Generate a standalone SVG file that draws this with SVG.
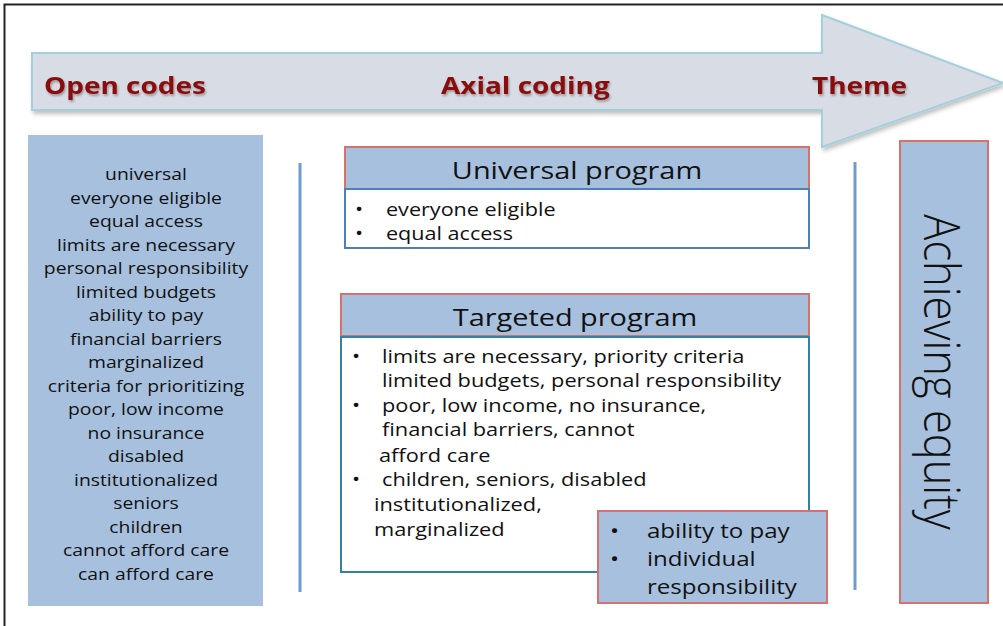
<svg xmlns="http://www.w3.org/2000/svg" width="1003" height="626" viewBox="0 0 1003 626">
  <defs>
    <filter id="sh" x="-5%" y="-10%" width="115%" height="130%">
      <feDropShadow dx="2" dy="3" stdDeviation="2" flood-color="#000" flood-opacity="0.25"/>
    </filter>
    <filter id="tsh" x="-5%" y="-20%" width="115%" height="150%">
      <feDropShadow dx="1" dy="2" stdDeviation="1" flood-color="#000" flood-opacity="0.3"/>
    </filter>
  </defs>
  <style>
    text { font-family: "Open Sans", "Liberation Sans", sans-serif; fill: #111; }
    .stage { font-weight: bold; font-size: 23.7px; fill: #8a0a0a; }
    .code { font-size: 16.4px; text-anchor: middle; }
    .hdr { font-size: 24.5px; text-anchor: middle; }
    .body { font-size: 18.3px; }
    .big { font-size: 20.4px; }
    .theme { font-size: 43.5px; font-weight: 300; text-anchor: middle; }
    .blue { fill: #a7c0de; }
    .red { stroke: #d4736e; stroke-width: 2; }
    .vline { stroke: #6c9cd0; stroke-width: 3; }
  </style>
  <rect x="0" y="0" width="1003" height="626" fill="#fff"/>
  <rect x="4.5" y="4.5" width="1010" height="700" fill="none" stroke="#222" stroke-width="2"/>

  <g id="process-arrow">
    <path d="M32,53 L822,53 L822,15 L1003,83 L822,147 L822,110 L32,110 Z" fill="#d8dce4" stroke="#a3d0dc" stroke-width="2" filter="url(#sh)"/>
    <text class="stage" transform="translate(44 94) scale(1.18 1)" filter="url(#tsh)">Open codes</text>
    <text class="stage" transform="translate(441 94) scale(1.18 1)" filter="url(#tsh)">Axial coding</text>
    <text class="stage" transform="translate(812 94) scale(1.18 1)" filter="url(#tsh)">Theme</text>
  </g>

  <g id="open-codes">
    <rect class="blue" x="28" y="135" width="235" height="471"/>
    <text class="code" transform="translate(146 180) scale(1.18 1)">universal</text>
    <text class="code" transform="translate(146 203.5) scale(1.18 1)">everyone eligible</text>
    <text class="code" transform="translate(146 227) scale(1.18 1)">equal access</text>
    <text class="code" transform="translate(146 250.5) scale(1.18 1)">limits are necessary</text>
    <text class="code" transform="translate(146 274) scale(1.18 1)">personal responsibility</text>
    <text class="code" transform="translate(146 297.5) scale(1.18 1)">limited budgets</text>
    <text class="code" transform="translate(146 321) scale(1.18 1)">ability to pay</text>
    <text class="code" transform="translate(146 344.5) scale(1.18 1)">financial barriers</text>
    <text class="code" transform="translate(146 368) scale(1.18 1)">marginalized</text>
    <text class="code" transform="translate(146 391.5) scale(1.18 1)">criteria for prioritizing</text>
    <text class="code" transform="translate(146 415) scale(1.18 1)">poor, low income</text>
    <text class="code" transform="translate(146 438.5) scale(1.18 1)">no insurance</text>
    <text class="code" transform="translate(146 462) scale(1.18 1)">disabled</text>
    <text class="code" transform="translate(146 485.5) scale(1.18 1)">institutionalized</text>
    <text class="code" transform="translate(146 509) scale(1.18 1)">seniors</text>
    <text class="code" transform="translate(146 532.5) scale(1.18 1)">children</text>
    <text class="code" transform="translate(146 556) scale(1.18 1)">cannot afford care</text>
    <text class="code" transform="translate(146 579.5) scale(1.18 1)">can afford care</text>
  </g>

  <g id="connectors">
    <line class="vline" x1="300" y1="163" x2="300" y2="592"/>
    <line class="vline" x1="855" y1="162" x2="855" y2="590"/>
  </g>

  <g id="universal-program">
    <rect class="blue red" x="345" y="147" width="464" height="42"/>
    <text class="hdr" transform="translate(577 179) scale(1.18 1)">Universal program</text>
    <rect x="345" y="189" width="464" height="59" fill="#fff" stroke="#4f7fb8" stroke-width="2"/>
    <text class="body" transform="translate(355 216) scale(1.18 1)">•</text>
    <text class="body" transform="translate(386 216) scale(1.18 1)">everyone eligible</text>
    <text class="body" transform="translate(355 240) scale(1.18 1)">•</text>
    <text class="body" transform="translate(386 240) scale(1.18 1)">equal access</text>
  </g>

  <g id="targeted-program">
    <rect class="blue red" x="341" y="294" width="468" height="42"/>
    <text class="hdr" transform="translate(575 326) scale(1.18 1)">Targeted program</text>
    <rect x="341" y="337" width="468" height="235" fill="#fff" stroke="#3b7fa0" stroke-width="2"/>
    <text class="body" transform="translate(352 363) scale(1.18 1)">•</text>
    <text class="body" transform="translate(382 363) scale(1.19 1)">limits are necessary, priority criteria</text>
    <text class="body" transform="translate(382 387) scale(1.19 1)">limited budgets, personal responsibility</text>
    <text class="body" transform="translate(352 412) scale(1.18 1)">•</text>
    <text class="body" transform="translate(382 412) scale(1.19 1)">poor, low income, no insurance,</text>
    <text class="body" transform="translate(382 436) scale(1.19 1)">financial barriers, cannot</text>
    <text class="body" transform="translate(379 462) scale(1.19 1)">afford care</text>
    <text class="body" transform="translate(352 486) scale(1.18 1)">•</text>
    <text class="body" transform="translate(382 486) scale(1.19 1)">children, seniors, disabled</text>
    <text class="body" transform="translate(374 511) scale(1.19 1)">institutionalized,</text>
    <text class="body" transform="translate(374 536) scale(1.19 1)">marginalized</text>
  </g>

  <g id="ability-to-pay">
    <rect class="blue red" x="598" y="511" width="229" height="92"/>
    <text class="big" transform="translate(610 538) scale(1.18 1)">•</text>
    <text class="big" transform="translate(647 538) scale(1.18 1)">ability to pay</text>
    <text class="big" transform="translate(610 566) scale(1.18 1)">•</text>
    <text class="big" transform="translate(647 566) scale(1.18 1)">individual</text>
    <text class="big" transform="translate(647 594) scale(1.18 1)">responsibility</text>
  </g>

  <g id="theme">
    <rect class="blue red" x="900" y="141" width="88" height="462"/>
    <text class="theme" transform="translate(924 372) scale(1.15 1) rotate(90)">Achieving equity</text>
  </g>
</svg>
